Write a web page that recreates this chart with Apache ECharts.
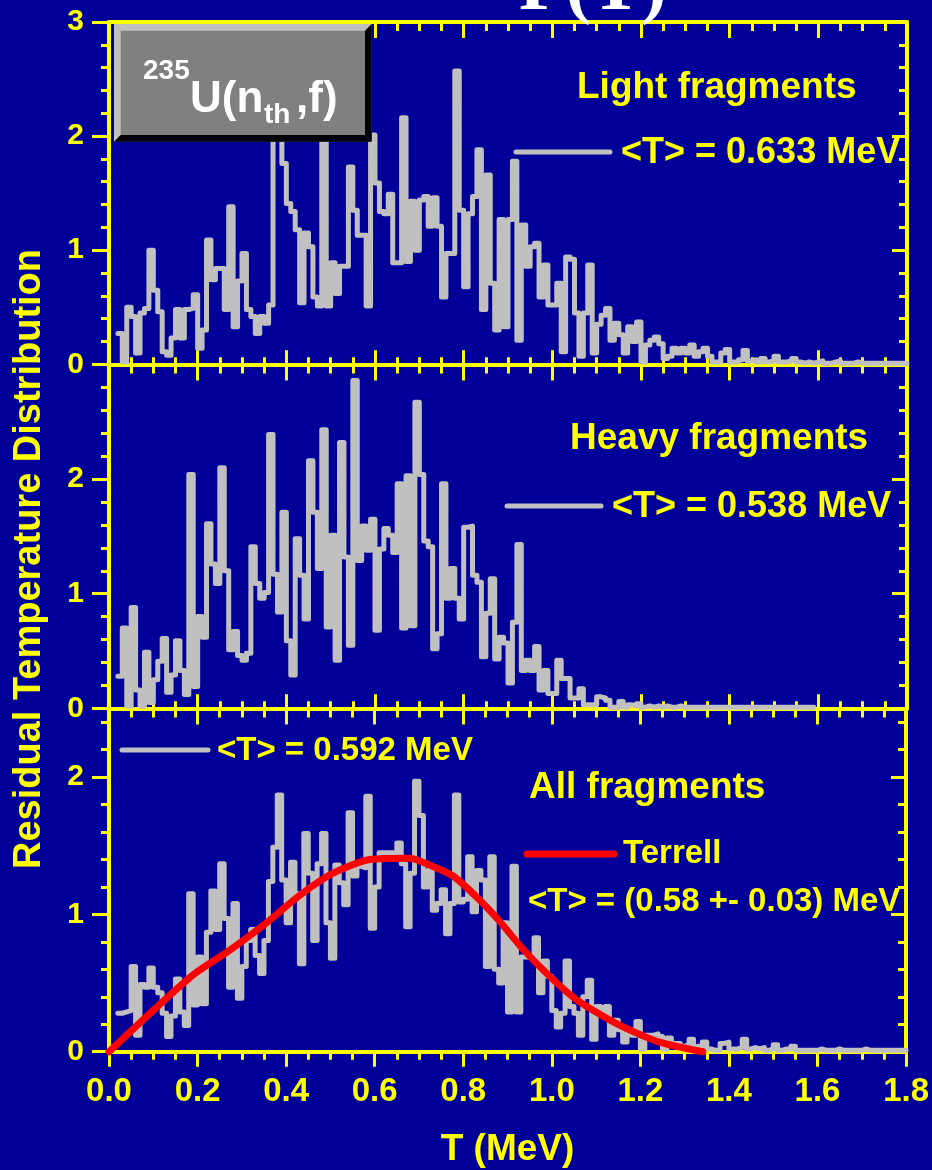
<!DOCTYPE html>
<html>
<head>
<meta charset="utf-8">
<script src="https://cdn.jsdelivr.net/npm/echarts@6/dist/echarts.min.js"></script>
<style>
html,body{margin:0;padding:0;background:#000099;}
#chart{width:932px;height:1170px;}
</style>
</head>
<body>
<div id="chart"></div>
<script>
// ---- data (bins of 0.01 MeV starting at 0.02 MeV) ----
const BIN_START = 0.02;
const BIN_WIDTH = 0.01;

const lightValues = [
  0.27,0.02,0.50,0.42,0.10,0.45,0.49,1.00,0.65,0.46,
  0.11,0.08,0.23,0.48,0.23,0.48,0.49,0.61,0.14,0.30,
  1.09,0.74,0.84,0.84,0.48,1.38,0.33,0.73,0.97,0.48,
  0.42,0.27,0.42,0.36,0.52,2.25,2.10,1.76,1.41,1.34,
  1.18,0.54,1.15,1.03,0.59,0.51,2.00,0.51,0.89,0.62,
  0.86,0.86,1.73,1.35,1.13,1.13,0.51,2.01,1.59,1.34,
  1.32,1.49,0.89,0.89,2.16,0.90,1.43,1.00,1.44,1.47,
  1.21,1.46,1.21,0.59,0.97,0.97,2.57,1.35,0.68,1.32,
  1.47,1.88,0.48,1.66,0.71,0.30,1.27,0.33,1.27,1.78,
  0.21,1.22,0.86,1.03,1.06,0.59,0.87,0.52,0.52,0.71,
  0.11,0.94,0.92,0.45,0.07,0.45,0.87,0.10,0.35,0.43,
  0.49,0.21,0.36,0.26,0.10,0.33,0.20,0.37,0.02,0.17,
  0.21,0.24,0.18,0.05,0.07,0.14,0.10,0.14,0.10,0.17,
  0.07,0.11,0.14,0.07,0.02,0.02,0.10,0.13,0.02,0.02,
  0.04,0.12,0.03,0.04,0.02,0.05,0.02,0.03,0.07,0.02,
  0.02,0.03,0.05,0.02,0.01,0.02,0.01,0.02,0.03,0.01,
  0.01,0.02,0.03,0.01,0.01,0.01,0.02,0.01,0.01,0.01,
  0.01,0.01,0.01,0.01,0.01,0.01,0.01,0.01
];

const heavyValues = [
  0.28,0.70,0.02,0.88,0.16,0.02,0.49,0.05,0.25,0.41,
  0.61,0.14,0.29,0.59,0.33,0.12,2.04,0.19,0.80,0.62,
  1.61,1.26,1.09,2.10,1.20,0.51,0.67,0.46,0.42,0.48,
  1.41,1.09,0.96,1.01,2.39,1.17,0.84,1.71,0.59,0.29,
  1.48,1.16,0.78,2.16,1.71,1.22,2.43,0.71,1.51,0.42,
  2.32,1.32,0.55,2.86,1.29,1.59,1.38,1.65,0.68,1.39,
  1.57,1.51,1.36,1.96,0.70,2.03,0.72,2.67,2.04,1.46,
  1.41,0.52,0.65,1.96,0.96,1.22,0.96,0.78,1.58,1.59,
  1.16,1.10,0.45,0.83,1.13,0.43,0.62,0.57,0.22,0.75,
  1.43,0.33,0.42,0.33,0.54,0.16,0.33,0.13,0.13,0.42,
  0.26,0.26,0.09,0.09,0.17,0.03,0.03,0.03,0.10,0.09,
  0.07,0.01,0.01,0.06,0.01,0.03,0.02,0.04,0.01,0.02,
  0.01,0.02,0.01,0.02,0.01,0.01,0.02,0.01,0.01,0.01,
  0.01,0.01,0.01,0.01,0.01,0.01,0.01,0.01,0.01,0.01,
  0.01,0.01,0.01,0.01,0.01,0.01,0.01,0.01,0.01,0.01,
  0.01,0.01,0.01,0.01,0.01,0.01,0.01
];

const allValues = [
  0.28,0.29,0.30,0.62,0.12,0.49,0.47,0.61,0.47,0.43,
  0.28,0.11,0.26,0.53,0.29,0.19,1.15,0.34,0.69,0.35,
  0.87,1.17,0.89,1.37,0.97,0.47,1.08,0.39,0.62,0.81,
  0.89,0.70,0.57,0.81,1.24,1.49,1.87,1.25,0.94,1.38,
  1.15,0.64,1.59,1.30,0.81,1.37,1.59,0.94,0.68,1.36,
  1.23,1.07,1.74,1.28,1.35,1.34,1.86,0.90,1.20,1.45,
  1.45,1.45,1.45,1.52,1.37,0.91,1.30,1.97,1.72,1.20,
  1.32,1.03,1.08,1.18,0.86,1.08,1.87,1.09,1.11,1.42,
  1.02,1.32,1.25,0.62,1.42,0.60,0.50,0.94,0.29,1.35,
  0.29,0.69,0.69,0.69,0.83,0.43,0.66,0.55,0.30,0.18,
  0.28,0.66,0.33,0.28,0.12,0.40,0.52,0.09,0.33,0.27,
  0.33,0.12,0.23,0.16,0.07,0.16,0.12,0.22,0.02,0.12,
  0.12,0.13,0.11,0.02,0.10,0.06,0.06,0.04,0.05,0.09,
  0.02,0.04,0.07,0.02,0.01,0.01,0.06,0.07,0.02,0.02,
  0.03,0.09,0.02,0.03,0.02,0.03,0.01,0.02,0.05,0.01,
  0.02,0.02,0.04,0.01,0.01,0.01,0.01,0.01,0.02,0.01,
  0.01,0.01,0.02,0.01,0.01,0.01,0.01,0.01,0.02,0.01,
  0.01,0.01,0.01,0.01,0.01,0.01,0.01,0.01
];

const terrellT      = [0, 0.186, 0.273, 0.356, 0.431, 0.506, 0.589, 0.679, 0.724, 0.777, 0.829, 0.882, 0.934, 0.995, 1.055, 1.115, 1.168, 1.243, 1.341];
const terrellValues = [0, 0.55,  0.74,  0.94,  1.14,  1.30,  1.40,  1.41,  1.36,  1.28,  1.13,  0.95,  0.75,  0.55,  0.38,  0.26,  0.17,  0.07,  0.0];

const panelLabels = ['Light fragments', 'Heavy fragments', 'All fragments'];
const meanLabels  = ['<T> = 0.633 MeV', '<T> = 0.538 MeV', '<T> = 0.592 MeV'];
const terrellLabel = 'Terrell';
const terrellMean  = '<T> = (0.58 +- 0.03) MeV';
const yTitle = 'Residual Temperature Distribution';
const xTitle = 'T (MeV)';

// ---- helpers ----
const YEL = '#FFFF00';
const GRAY = '#C0C0C0';
const FF = '"Liberation Sans", Arial, Helvetica, sans-serif';

function stepData(vals) {
  const d = [];
  for (let i = 0; i < vals.length; i++) {
    d.push([+(BIN_START + i * BIN_WIDTH).toFixed(3), vals[i]]);
  }
  d.push([+(BIN_START + vals.length * BIN_WIDTH).toFixed(3), vals[vals.length - 1]]);
  return d;
}

function xAx(grid, pos, inside, majorLen, minorLen, labels, extra) {
  return Object.assign({
    type: 'value', gridIndex: grid, position: pos, min: 0, max: 1.8, interval: 0.2,
    axisLine: {show: true, onZero: false, lineStyle: {color: YEL, width: 4}},
    axisTick: {show: true, inside: inside, length: majorLen, lineStyle: {color: YEL, width: 3}},
    minorTick: {show: true, splitNumber: 4, length: minorLen, lineStyle: {color: YEL, width: 3}},
    splitLine: {show: false},
    axisLabel: labels ? {
      show: true, color: YEL, fontSize: 33, fontWeight: 'bold', fontFamily: FF, margin: 24,
      formatter: v => v.toFixed(1)
    } : {show: false}
  }, extra || {});
}

function yAx(grid, pos, max, interval, inside, majorLen, minorLen, labels, showLine, extra) {
  const o = {
    type: 'value', gridIndex: grid, position: pos, min: 0, max: max, interval: interval,
    axisLine: {show: showLine, onZero: false, lineStyle: {color: YEL, width: 4}},
    axisTick: {show: true, inside: inside, length: majorLen, lineStyle: {color: YEL, width: 3}},
    minorTick: minorLen ? {show: true, splitNumber: 5, length: minorLen, lineStyle: {color: YEL, width: 3}} : {show: false},
    splitLine: {show: false},
    axisLabel: labels ? {
      show: true, color: YEL, fontSize: 30, fontWeight: 'bold', fontFamily: FF, margin: 25,
      showMaxLabel: labels === 'all' ? true : false,
      formatter: v => String(Math.round(v))
    } : {show: false}
  };
  return Object.assign(o, extra || {});
}

const xAxes = [
  xAx(0, 'bottom', true, 14, 7, false),
  xAx(0, 'top', true, 16, 9, false),
  xAx(1, 'bottom', true, 14, 7, false),
  xAx(1, 'top', true, 16, 9, false),
  xAx(2, 'bottom', false, 15, 8, true, {
    name: xTitle, nameLocation: 'middle', nameGap: 80,
    nameTextStyle: {color: YEL, fontSize: 37, fontWeight: 'bold', fontFamily: FF}
  }),
  xAx(2, 'top', true, 16, 9, false)
];

const yAxes = [
  yAx(0, 'left', 3, 1, false, 17, 8, 'all', true),
  yAx(0, 'right', 3, 1, true, 15, 8, false, true),
  yAx(1, 'left', 3, 1, false, 17, 8, 'nomax', true),
  yAx(1, 'right', 3, 1, true, 15, 8, false, true),
  yAx(2, 'left', 2.5, 1, false, 17, 0, 'nomax', true),
  yAx(2, 'left', 2.5, 0.2, false, 8, 0, false, false),
  yAx(2, 'right', 2.5, 1, true, 15, 0, false, true),
  yAx(2, 'right', 2.5, 0.2, true, 8, 0, false, false)
];

function histSeries(name, vals, xi, yi) {
  return {
    name: name, type: 'line', step: 'end', xAxisIndex: xi, yAxisIndex: yi,
    data: stepData(vals), showSymbol: false, symbol: 'none', clip: false, z: 3,
    lineStyle: {color: GRAY, width: 5, cap: 'round', join: 'round'},
    animation: false
  };
}

const terrellData = terrellT.map((t, i) => [t, terrellValues[i]]);

function txt(x, y, s, size) {
  return {
    type: 'text', x: x, y: y, z: 50,
    style: {
      text: s, fill: YEL, font: 'bold ' + size + 'px ' + FF,
      textAlign: 'left', textVerticalAlign: 'middle'
    }
  };
}
function seg(x1, x2, y, color, w) {
  return {type: 'line', z: 50, shape: {x1: x1, y1: y, x2: x2, y2: y},
          style: {stroke: color, lineWidth: w, lineCap: 'round'}};
}
function white(x, y, s, size) {
  return {type: 'text', x: x, y: y, z: 62,
          style: {text: s, fill: '#FFFFFF', font: 'bold ' + size + 'px ' + FF, textAlign: 'left', textVerticalAlign: 'middle'}};
}

const graphics = [
  // partially visible slide title
  {type: 'text', x: 519, y: -11, z: 1,
   style: {text: 'P(T)', fill: '#FFFFFF', font: 'bold 76px "Liberation Serif", "Times New Roman", serif',
           textAlign: 'left', textVerticalAlign: 'middle'}},
  // bevelled grey box
  {type: 'polygon', z: 60, shape: {points: [[114,24],[371.7,24],[371.7,141.7],[114,141.7]]}, style: {fill: '#808080'}},
  {type: 'polygon', z: 61, shape: {points: [[114,24],[371.7,24],[365,30.7],[120.7,30.7]]}, style: {fill: '#C0C0C0'}},
  {type: 'polygon', z: 61, shape: {points: [[114,24],[120.7,30.7],[120.7,135],[114,141.7]]}, style: {fill: '#C0C0C0'}},
  {type: 'polygon', z: 61, shape: {points: [[114,141.7],[120.7,135],[365,135],[371.7,141.7]]}, style: {fill: '#000000'}},
  {type: 'polygon', z: 61, shape: {points: [[371.7,24],[371.7,141.7],[365,135],[365,30.7]]}, style: {fill: '#000000'}},
  white(143, 71, '235', 28),
  white(190, 100, 'U(n', 44),
  white(264, 115, 'th', 28),
  white(296, 100, ',f)', 44),
  // panel annotations
  txt(577, 88, panelLabels[0], 37),
  seg(516, 610, 152, GRAY, 5),
  txt(621, 153, meanLabels[0], 36),
  txt(570, 439, panelLabels[1], 37),
  seg(507, 601, 506, GRAY, 5),
  txt(612, 507, meanLabels[1], 36),
  seg(122, 208, 750, GRAY, 5),
  txt(217, 751, meanLabels[2], 33),
  txt(529, 788, panelLabels[2], 37),
  seg(527, 614, 854, '#FF0000', 7),
  txt(623, 854, terrellLabel, 33),
  txt(528, 902, terrellMean, 33),
  // y axis title
  {type: 'text', x: 30, y: 559, z: 50, rotation: Math.PI / 2,
   style: {text: yTitle, fill: YEL, font: 'bold 38px ' + FF, textAlign: 'center', textVerticalAlign: 'middle'}}
];

const chart = echarts.init(document.getElementById('chart'), null, {renderer: 'canvas'});
chart.setOption({
  backgroundColor: '#000099',
  animation: false,
  grid: [
    {left: 109, width: 798, top: 22, height: 342.3},
    {left: 109, width: 798, top: 364.5, height: 343.8},
    {left: 109, width: 798, top: 708.5, height: 343.2}
  ],
  xAxis: xAxes,
  yAxis: yAxes,
  series: [
    histSeries('Light fragments', lightValues, 0, 0),
    histSeries('Heavy fragments', heavyValues, 2, 2),
    histSeries('All fragments', allValues, 4, 4),
    {
      name: 'Terrell', type: 'line', xAxisIndex: 4, yAxisIndex: 4, data: terrellData,
      showSymbol: false, symbol: 'none', smooth: 0.25, clip: false, z: 5,
      lineStyle: {color: '#FF0000', width: 7, cap: 'round', join: 'round'}
    }
  ],
  graphic: graphics
});
</script>
</body>
</html>
